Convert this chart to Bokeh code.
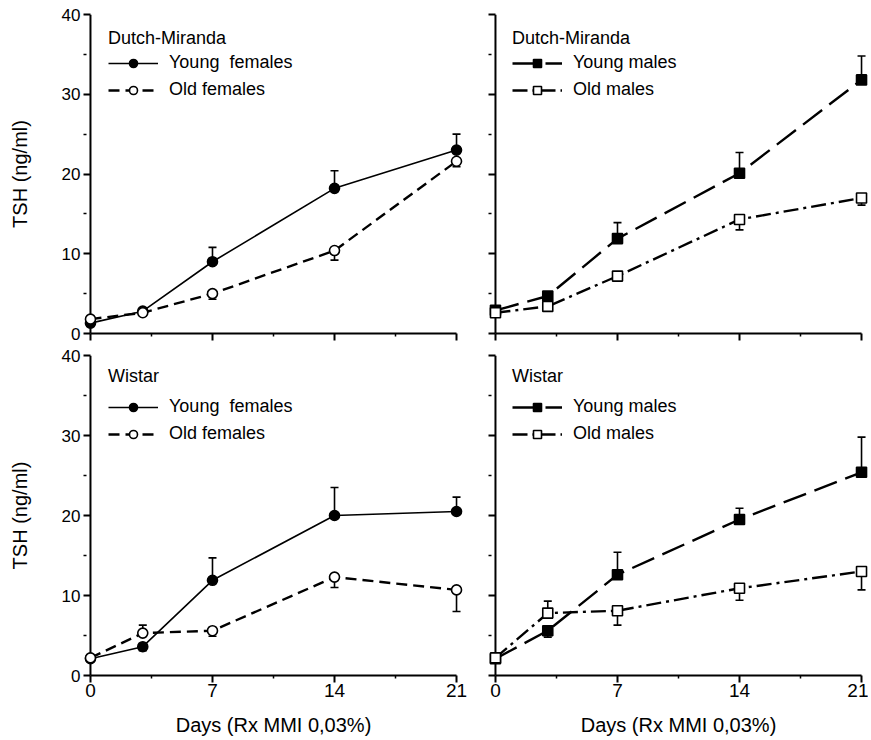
from bokeh.plotting import figure
from bokeh.models import (Range1d, FixedTicker, Whisker, TeeHead, ColumnDataSource, Legend,
                          LegendItem, Span, CustomLabelingPolicy)
from bokeh.layouts import column, row
from bokeh.embed import file_html
from bokeh.resources import INLINE

FONT = "Liberation Sans"

days = [0, 3, 7, 14, 21]
x_major = [0, 7, 14, 21]
x_minor = [3.5, 10.5, 17.5]
y_major = [0, 10, 20, 30, 40]
y_minor = [5, 15, 25, 35]
x_title = "Days (Rx MMI 0,03%)"
y_title = "TSH (ng/ml)"

# Dutch-Miranda (signed error bar length: + drawn up, - drawn down)
dm_young_f = [1.3, 2.8, 9.0, 18.2, 23.0]
dm_young_f_err = [0, 0, 1.8, 2.2, 2.0]
dm_old_f = [1.8, 2.6, 5.0, 10.4, 21.6]
dm_old_f_err = [0, 0, -0.7, -1.2, -0.7]
dm_young_m = [2.9, 4.7, 11.9, 20.1, 31.8]
dm_young_m_err = [0, 0, 2.0, 2.6, 3.0]
dm_old_m = [2.6, 3.4, 7.2, 14.3, 17.0]
dm_old_m_err = [0, 0, -0.6, -1.3, -0.9]
# Wistar
w_young_f = [2.1, 3.6, 11.9, 20.0, 20.5]
w_young_f_err = [0, -0.5, 2.8, 3.5, 1.8]
w_old_f = [2.2, 5.3, 5.6, 12.3, 10.7]
w_old_f_err = [0, 1.0, -0.7, -1.3, -2.7]
w_young_m = [2.1, 5.6, 12.6, 19.5, 25.4]
w_young_m_err = [0, -0.8, 2.8, 1.4, 4.4]
w_old_m = [2.2, 7.8, 8.1, 10.9, 13.0]
w_old_m_err = [0, 1.5, -1.8, -1.5, -2.3]

STYLES = {
    "young_f": dict(dash="solid", lw=1.6, marker="circle", fill="black"),
    "old_f": dict(dash="11 6", lw=2.4, marker="circle", fill="white"),
    "young_m": dict(dash="24 9", lw=2.4, marker="square", fill="black"),
    "old_m": dict(dash="15 5 3 5", lw=2.4, marker="square", fill="white"),
}

HIDE_LABELS = "for (const i of Array.from(indices.ones())) { indices.set(i, false) }\nreturn indices"


def add_series(p, vals, errs, style):
    st = STYLES[style]
    ln = p.line(days, vals, line_color="black", line_width=st["lw"], line_dash=st["dash"])
    for sign in (1, -1):
        b, lo, up = [], [], []
        for d, v, e in zip(days, vals, errs):
            if e * sign > 0:
                b.append(d)
                lo.append(min(v, v + e))
                up.append(max(v, v + e))
        if not b:
            continue
        src = ColumnDataSource(dict(base=b, lower=lo, upper=up))
        head = TeeHead(size=8, line_width=1.6, line_color="black")
        w = Whisker(source=src, base="base", lower="lower", upper="upper", dimension="height",
                    line_width=1.6, line_color="black", level="underlay",
                    upper_head=head if sign > 0 else None,
                    lower_head=head if sign < 0 else None)
        p.add_layout(w)
    sc = p.scatter(days, vals, marker=st["marker"], size=10, fill_color=st["fill"],
                   line_color="black", line_width=1.6)
    return [ln, sc]


def make_panel(strain, s1, s2, left_col, top_row):
    fh = 319 if top_row else 320
    p = figure(frame_width=380, frame_height=fh,
               x_range=Range1d(-0.4, 21.4), y_range=Range1d(0, 40),
               output_backend="svg", toolbar_location=None,
               min_border_left=83 if left_col else 21,
               min_border_right=4 if left_col else 0,
               min_border_top=14 if top_row else 10,
               min_border_bottom=12 if top_row else 57)
    p.grid.visible = False
    p.outline_line_color = None
    for ax in p.axis:
        ax.axis_line_width = 2
        ax.axis_line_color = "black"
        ax.major_tick_line_width = 2
        ax.major_tick_line_color = "black"
        ax.minor_tick_line_width = 1.5
        ax.minor_tick_line_color = "black"
        ax.major_label_text_font = FONT
        ax.major_label_text_color = "black"
        ax.axis_label_text_font = FONT
        ax.axis_label_text_font_style = "normal"
        ax.axis_label_text_color = "black"
    xa = p.xaxis[0]
    ya = p.yaxis[0]
    xa.ticker = FixedTicker(ticks=x_major, minor_ticks=x_minor)
    xa.bounds = (0, 21)
    xa.major_tick_out = 7
    xa.major_tick_in = 0
    xa.minor_tick_out = 3
    xa.minor_tick_in = 0
    xa.major_label_standoff = 1
    # y axis: frame edge lies 0.4 day left of x=0; ticks reach inwards to x=0,
    # where the axis line itself is drawn
    ya.ticker = FixedTicker(ticks=y_major, minor_ticks=y_minor)
    ya.axis_line_color = None
    ya.major_tick_in = 7
    ya.major_tick_out = 0
    ya.minor_tick_in = 3
    ya.minor_tick_out = 0
    ya.major_label_standoff = 3
    p.add_layout(Span(location=0, dimension="height", line_color="black", line_width=2,
                      level="underlay"))
    if left_col:
        ya.major_label_text_font_size = "17px"
        ya.axis_label = y_title
        ya.axis_label_text_font_size = "20px"
        ya.axis_label_standoff = 28
    else:
        ya.major_label_text_font_size = "0px"
        ya.major_label_policy = CustomLabelingPolicy(code=HIDE_LABELS)
    if top_row:
        xa.major_label_text_font_size = "0px"
        xa.major_label_policy = CustomLabelingPolicy(code=HIDE_LABELS)
    else:
        xa.major_label_text_font_size = "19px"
        xa.axis_label = x_title
        xa.axis_label_text_font_size = "20px"
        xa.axis_label_standoff = 14

    items = []
    for vals, errs, style, label in (s1, s2):
        rs = add_series(p, vals, errs, style)
        items.append(LegendItem(label=label, renderers=rs))
    leg = Legend(items=items, title=strain,
                 location=(25 if left_col else 24, fh - (86 if top_row else 89)),
                 border_line_color=None, background_fill_alpha=0,
                 label_text_font=FONT, label_text_font_size="18px", label_text_color="black",
                 title_text_font=FONT, title_text_font_size="18px", title_text_font_style="normal",
                 title_text_color="black",
                 glyph_width=50, glyph_height=20, label_height=20, label_standoff=11,
                 spacing=6, padding=0, margin=0, title_standoff=3 if top_row else 9)
    p.add_layout(leg)
    return p


p1 = make_panel("Dutch-Miranda",
                (dm_young_f, dm_young_f_err, "young_f", "Young  females"),
                (dm_old_f, dm_old_f_err, "old_f", "Old females"), True, True)
p2 = make_panel("Dutch-Miranda",
                (dm_young_m, dm_young_m_err, "young_m", "Young males"),
                (dm_old_m, dm_old_m_err, "old_m", "Old males"), False, True)
p3 = make_panel("Wistar",
                (w_young_f, w_young_f_err, "young_f", "Young  females"),
                (w_old_f, w_old_f_err, "old_f", "Old females"), True, False)
p4 = make_panel("Wistar",
                (w_young_m, w_young_m_err, "young_m", "Young males"),
                (w_old_m, w_old_m_err, "old_m", "Old males"), False, False)

layout = column(row(p1, p2), row(p3, p4))
open("out.html", "w").write(file_html(layout, INLINE))
